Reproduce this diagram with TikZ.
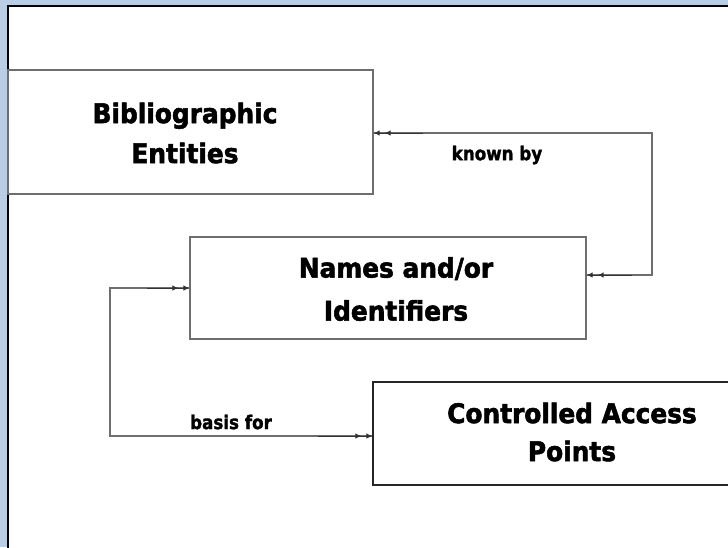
\documentclass[tikz,border=0pt]{standalone}
\usepackage{fontspec}
\setmainfont{DejaVu Sans}
\newfontfamily\boxfont[FakeStretch=0.92,FakeBold=2]{DejaVu Sans Bold}
\newfontfamily\labfont[FakeStretch=0.88,FakeBold=1.6]{DejaVu Sans Bold}
\usetikzlibrary{arrows.meta}
\definecolor{slideblue}{HTML}{B9CDE5}
\definecolor{linegray}{HTML}{6E6E6E}
\begin{document}
\begin{tikzpicture}[x=1pt,y=-1pt,
  box/.style={draw=linegray, line width=1.3pt, inner sep=0pt},
  title/.style={align=center, inner sep=0pt},
  lab/.style={font=\labfont\fontsize{19}{22}\selectfont, inner sep=0pt},
  link/.style={draw=linegray, line width=1.1pt},
  tip/.style={black!80, line width=0.9pt, -{Latex[length=6pt,width=5.5pt,sep=5pt]Latex[length=6pt,width=5.5pt]}}
]
\useasboundingbox (0,0) rectangle (728,547);
\clip (0,0) rectangle (728,547);
% slide background and white panel
\fill[slideblue] (0,0) rectangle (728,547);
\fill[white] (8,6) rectangle (740,560);
\draw[line width=2pt] (8,560) -- (8,6) -- (740,6);

% boxes
\node[box, minimum width=365pt, minimum height=124pt] (b1) at (190.5,132) {};
\node[box, minimum width=396pt, minimum height=102pt] (b2) at (388,288) {};
\node[box, draw=black!85, minimum width=387pt, minimum height=103pt] (b3) at (566.5,433.5) {};

% box texts
\node[title, font=\boxfont\fontsize{27}{40}\selectfont] (t1) at (185,133) {Bibliographic\\Entities};
\node[title, font=\boxfont\fontsize{27}{43}\selectfont] (t2) at (396,289) {Names and/or\\Identifiers};
\node[title, font=\boxfont\fontsize{27}{38}\selectfont] (t3) at (572,432) {Controlled Access\\Points};

% "known by" link
\coordinate (kr) at (652,204);
\draw[link] ([yshift=13pt]b2.east) -| (kr) |- ([yshift=-1pt]b1.east);
\draw[tip] (423,133) -- ([yshift=-1pt]b1.east);
\draw[tip] (632,275) -- ([yshift=13pt]b2.east);
\node[lab] (l1) at (497,155) {known by};

% "basis for" link
\coordinate (bl) at (110,360);
\draw[link] (b2.west) -| (bl) |- ([yshift=-2.5pt]b3.west);
\draw[tip] (147,288) -- (b2.west);
\draw[tip] (318,436) -- ([yshift=-2.5pt]b3.west);
\node[lab] (l2) at (231,422) {basis for};
\end{tikzpicture}
\end{document}
